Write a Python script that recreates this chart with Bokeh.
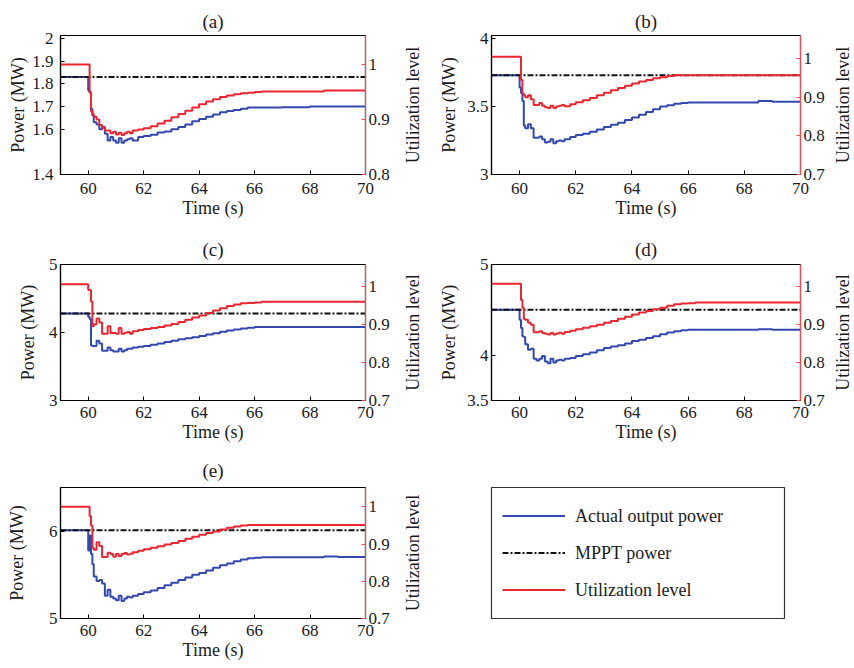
from bokeh.plotting import figure
from bokeh.models import Range1d, LinearAxis, FixedTicker, Legend, LegendItem, Title
from bokeh.layouts import column, row
from bokeh.embed import file_html
from bokeh.resources import INLINE

# ---------------- data ----------------
time_s = [59.0, 60.0, 60.05, 60.1, 60.15, 60.2, 60.3, 60.4, 60.5, 60.6, 60.7, 60.8, 60.9,
          61.0, 61.1, 61.2, 61.3, 61.4, 61.5, 61.6, 61.8, 62.0, 62.25, 62.5, 62.75,
          63.0, 63.25, 63.5, 63.75, 64.0, 64.25, 64.5, 64.75, 65.0, 65.25, 65.5, 65.75,
          66.0, 66.25, 67.0, 68.0, 68.5, 69.0, 70.0]

a_power = [1.83, 1.77, 1.76, 1.69, 1.66, 1.63, 1.62, 1.60, 1.61, 1.58, 1.55, 1.565, 1.55,
           1.54, 1.56, 1.54, 1.55, 1.555, 1.56, 1.55, 1.565, 1.57, 1.575, 1.585, 1.59,
           1.60, 1.61, 1.62, 1.635, 1.645, 1.655, 1.665, 1.675, 1.68, 1.685, 1.69, 1.695,
           1.695, 1.695, 1.697, 1.70, 1.70, 1.70, 1.70]
a_util = [1.0, 1.0, 0.95, 0.915, 0.91, 0.905, 0.90, 0.89, 0.885, 0.88, 0.88, 0.875, 0.878,
          0.873, 0.876, 0.872, 0.875, 0.878, 0.875, 0.88, 0.882, 0.884, 0.888, 0.893, 0.898,
          0.904, 0.91, 0.916, 0.922, 0.928, 0.933, 0.937, 0.941, 0.944, 0.946, 0.948, 0.949,
          0.95, 0.951, 0.951, 0.951, 0.953, 0.953, 0.953]

b_power = [3.73, 3.64, 3.60, 3.54, 3.36, 3.34, 3.37, 3.34, 3.27, 3.27, 3.28, 3.26, 3.235,
           3.24, 3.26, 3.23, 3.245, 3.25, 3.245, 3.26, 3.275, 3.29, 3.30, 3.315, 3.33,
           3.35, 3.365, 3.38, 3.40, 3.42, 3.44, 3.46, 3.48, 3.50, 3.51, 3.52, 3.525,
           3.53, 3.53, 3.53, 3.53, 3.54, 3.535, 3.54]
b_util = [1.005, 1.005, 0.945, 0.91, 0.905, 0.90, 0.905, 0.895, 0.88, 0.88, 0.885, 0.878, 0.874,
          0.872, 0.878, 0.872, 0.876, 0.878, 0.88, 0.877, 0.882, 0.887, 0.892, 0.898, 0.905,
          0.912, 0.918, 0.924, 0.93, 0.936, 0.941, 0.945, 0.949, 0.952, 0.955, 0.957, 0.957,
          0.957, 0.957, 0.957, 0.957, 0.957, 0.957, 0.957]

c_power = [4.28, 4.23, 4.20, 3.81, 3.80, 3.80, 3.88, 3.84, 3.73, 3.73, 3.78, 3.74, 3.72,
           3.72, 3.76, 3.72, 3.74, 3.76, 3.76, 3.78, 3.79, 3.80, 3.82, 3.84, 3.86,
           3.88, 3.90, 3.915, 3.93, 3.95, 3.97, 3.99, 4.01, 4.03, 4.045, 4.06, 4.07,
           4.08, 4.08, 4.08, 4.08, 4.08, 4.08, 4.08]
c_util = [1.005, 0.99, 0.99, 0.96, 0.895, 0.90, 0.915, 0.905, 0.875, 0.875, 0.895, 0.877, 0.877,
          0.875, 0.89, 0.875, 0.878, 0.88, 0.875, 0.882, 0.885, 0.888, 0.89, 0.893, 0.897,
          0.901, 0.906, 0.912, 0.918, 0.923, 0.93, 0.936, 0.942, 0.948, 0.952, 0.955, 0.956,
          0.957, 0.959, 0.959, 0.959, 0.959, 0.959, 0.959]

d_power = [4.50, 4.39, 4.30, 4.21, 4.20, 4.12, 4.06, 4.07, 3.96, 3.94, 3.96, 3.99, 3.93,
           3.91, 3.96, 3.92, 3.94, 3.95, 3.94, 3.96, 3.97, 3.99, 4.01, 4.03, 4.055,
           4.08, 4.095, 4.11, 4.13, 4.155, 4.17, 4.19, 4.21, 4.23, 4.25, 4.265, 4.275,
           4.28, 4.28, 4.28, 4.28, 4.285, 4.28, 4.285]
d_util = [1.008, 1.008, 0.965, 0.945, 0.915, 0.913, 0.905, 0.90, 0.88, 0.88, 0.883, 0.878, 0.876,
          0.874, 0.878, 0.874, 0.877, 0.879, 0.876, 0.881, 0.884, 0.888, 0.892, 0.896, 0.90,
          0.905, 0.91, 0.916, 0.921, 0.927, 0.932, 0.936, 0.941, 0.945, 0.95, 0.954, 0.956,
          0.957, 0.959, 0.959, 0.959, 0.959, 0.959, 0.959]

e_power = [6.01, 5.78, 5.95, 5.74, 5.62, 5.48, 5.43, 5.44, 5.40, 5.26, 5.33, 5.25, 5.23,
           5.21, 5.26, 5.20, 5.23, 5.25, 5.24, 5.26, 5.28, 5.30, 5.32, 5.35, 5.38,
           5.41, 5.44, 5.47, 5.50, 5.52, 5.55, 5.58, 5.61, 5.63, 5.655, 5.675, 5.69,
           5.695, 5.70, 5.70, 5.70, 5.71, 5.705, 5.71]
e_util = [1.0, 1.0, 0.975, 0.95, 0.89, 0.885, 0.905, 0.895, 0.865, 0.865, 0.877, 0.873, 0.866,
          0.873, 0.868, 0.873, 0.876, 0.872, 0.874, 0.878, 0.882, 0.886, 0.89, 0.894, 0.899,
          0.903, 0.908, 0.914, 0.92, 0.925, 0.93, 0.934, 0.939, 0.944, 0.947, 0.95, 0.951,
          0.951, 0.951, 0.951, 0.951, 0.951, 0.951, 0.951]

panel_titles = ["(a)", "(b)", "(c)", "(d)", "(e)"]
mppt_power = [1.83, 3.73, 4.28, 4.50, 6.01]

power_ranges = [(1.4, 2.013), (3.0, 4.022), (3.0, 5.0), (3.5, 5.0), (5.0, 6.5)]
power_ticks = [[1.4, 1.6, 1.7, 1.8, 1.9, 2.0], [3.0, 3.5, 4.0], [3.0, 4.0, 5.0],
               [3.5, 4.0, 5.0], [5.0, 6.0]]
power_tick_labels = [["1.4", "1.6", "1.7", "1.8", "1.9", "2"], ["3", "3.5", "4"],
                     ["3", "4", "5"], ["3.5", "4", "5"], ["5", "6"]]

util_ranges = [(0.8, 1.053), (0.7, 1.06), (0.7, 1.057), (0.7, 1.059), (0.7, 1.052)]
util_ticks = [[0.8, 0.9, 1.0], [0.7, 0.8, 0.9, 1.0], [0.7, 0.8, 0.9, 1.0],
              [0.7, 0.8, 0.9, 1.0], [0.7, 0.8, 0.9, 1.0]]
util_tick_labels = [["0.8", "0.9", "1"], ["0.7", "0.8", "0.9", "1"], ["0.7", "0.8", "0.9", "1"],
                    ["0.7", "0.8", "0.9", "1"], ["0.7", "0.8", "0.9", "1"]]

time_ticks = [60, 62, 64, 66, 68, 70]
time_range = (59.0, 70.0)

legend_labels = ["Actual output power", "MPPT power", "Utilization level"]
util_axis_label = "Utilization level"
power_axis_label = "Power (MW)"
time_axis_label = "Time (s)"

power_series = [a_power, b_power, c_power, d_power, e_power]
util_series = [a_util, b_util, c_util, d_util, e_util]

# ---------------- style / layout ----------------
FONT = "Liberation Serif"
TXT = "#1a1a1a"
BLUE = "#3347b0"
RED = "#ec2630"
BLACK = "#111111"
AXIS_RED = "#e0525c"
DASH = "6 2 2 2"

# row geometry: (height, border_top, border_bottom, title_standoff, x-tick standoff)
rows_geom = [(226, 35, 52, 8, 8), (224, 38, 50, 9, 6), (216, 36, 48, 14, 6)]
# column geometry for plot panels: (width, border_left, border_right)
col_left = (392, 60, 25)
col_right = (403, 67, 25)
# per panel: (row index, column, y-tick standoff, power-label standoff)
panel_geom = [(0, col_left, 7, 1), (0, col_right, 3, 5), (1, col_left, 3, 8),
              (1, col_right, 3, 5), (2, col_left, 3, 19)]


def side_title(text, standoff):
    return Title(text=text, align="center", standoff=standoff, text_font=FONT,
                 text_font_size="18px", text_font_style="normal", text_color=TXT)


def style_axis(ax, color="black"):
    ax.axis_line_color = color
    ax.axis_line_width = 1.2
    ax.major_tick_line_color = color
    ax.major_tick_in = 4
    ax.major_tick_out = 0
    ax.minor_tick_line_color = None
    ax.major_label_text_font = FONT
    ax.major_label_text_font_size = "17px"
    ax.major_label_text_color = TXT
    ax.axis_label_text_font = FONT
    ax.axis_label_text_font_size = "18px"
    ax.axis_label_text_font_style = "normal"
    ax.axis_label_text_color = TXT
    ax.major_label_standoff = 3


def make_panel(i):
    ri, (w, bl, br), ystand, lstand = panel_geom[i]
    h, bt, bb, tstand, xstand = rows_geom[ri]
    p = figure(width=w, height=h, output_backend="svg", toolbar_location=None,
               x_range=Range1d(*time_range), y_range=Range1d(*power_ranges[i]),
               min_border_left=bl, min_border_right=br, min_border_top=bt,
               min_border_bottom=bb, title=panel_titles[i])
    p.title.text_font = FONT
    p.title.text_font_size = "19px"
    p.title.text_font_style = "normal"
    p.title.align = "center"
    p.title.standoff = tstand
    p.title.text_color = TXT
    p.xgrid.visible = False
    p.ygrid.visible = False
    p.outline_line_color = "black"
    p.outline_line_width = 1.2
    p.background_fill_color = "white"
    p.border_fill_color = "white"

    p.extra_y_ranges = {"util": Range1d(*util_ranges[i])}

    xa = p.xaxis[0]
    style_axis(xa)
    xa.ticker = FixedTicker(ticks=time_ticks)
    xa.major_label_standoff = xstand
    xa.axis_label = time_axis_label
    xa.axis_label_standoff = 1

    ya = p.yaxis[0]
    style_axis(ya)
    ya.ticker = FixedTicker(ticks=power_ticks[i])
    ya.major_label_overrides = {t: s for t, s in zip(power_ticks[i], power_tick_labels[i])}
    ya.major_label_standoff = ystand
    ya.axis_label = power_axis_label
    ya.axis_label_standoff = lstand

    ra = LinearAxis(y_range_name="util")
    style_axis(ra, AXIS_RED)
    ra.ticker = FixedTicker(ticks=util_ticks[i])
    ra.major_label_overrides = {t: s for t, s in zip(util_ticks[i], util_tick_labels[i])}
    p.add_layout(ra, "right")

    p.step(time_s, power_series[i], mode="after", line_color=BLUE, line_width=2)
    p.line([time_s[0], time_s[-1]], [mppt_power[i], mppt_power[i]],
           line_color=BLACK, line_width=2, line_dash=DASH)
    p.step(time_s, util_series[i], mode="after", line_color=RED, line_width=2,
           y_range_name="util")
    return p


def strip(ri, width, border_left, standoff):
    """narrow strip carrying a right-hand axis title (reads bottom to top)"""
    h, bt, bb, _, _ = rows_geom[ri]
    s = figure(width=width, height=h, output_backend="svg", toolbar_location=None,
               x_axis_location=None, y_axis_location=None,
               min_border_left=border_left, min_border_right=0, min_border_top=bt,
               min_border_bottom=bb)
    s.xgrid.visible = False
    s.ygrid.visible = False
    s.outline_line_color = None
    s.add_layout(side_title(util_axis_label, standoff), "left")
    return s


panels = [make_panel(i) for i in range(5)]

# legend panel (its frame is the legend box); borders match panel (e) so frames line up
h3, bt3, bb3, _, _ = rows_geom[2]
lg = figure(width=428, height=h3, output_backend="svg", toolbar_location=None,
            x_axis_location=None, y_axis_location=None,
            x_range=Range1d(0, 1), y_range=Range1d(0, 1),
            min_border_left=67, min_border_right=68, min_border_top=bt3,
            min_border_bottom=bb3)
lg.xgrid.visible = False
lg.ygrid.visible = False
lg.outline_line_color = "#333333"
lg.outline_line_width = 1.2
# single off-frame points: these renderers only feed the legend swatches
r1 = lg.line(x=[time_s[0]], y=[mppt_power[0]], line_color=BLUE, line_width=2)
r2 = lg.line(x=[time_s[0]], y=[mppt_power[0]], line_color=BLACK, line_width=2, line_dash=DASH)
r3 = lg.line(x=[time_s[0]], y=[mppt_power[0]], line_color=RED, line_width=2)
legend = Legend(items=[LegendItem(label=legend_labels[0], renderers=[r1]),
                       LegendItem(label=legend_labels[1], renderers=[r2]),
                       LegendItem(label=legend_labels[2], renderers=[r3])],
                location="left")
legend.border_line_alpha = 0
legend.background_fill_alpha = 0
legend.margin = 0
legend.padding = 11
legend.spacing = 16
legend.glyph_width = 63
legend.label_standoff = 10
legend.label_text_font = FONT
legend.label_text_font_size = "18px"
legend.label_text_color = TXT
lg.add_layout(legend)

layout = column(
    row(panels[0], strip(0, 32, 30, 0), panels[1], strip(0, 25, 23, -4)),
    row(panels[2], strip(1, 32, 30, 0), panels[3], strip(1, 25, 23, -4)),
    row(panels[4], strip(2, 32, 30, 0), lg),
)

open("out.html", "w").write(file_html(layout, INLINE))
